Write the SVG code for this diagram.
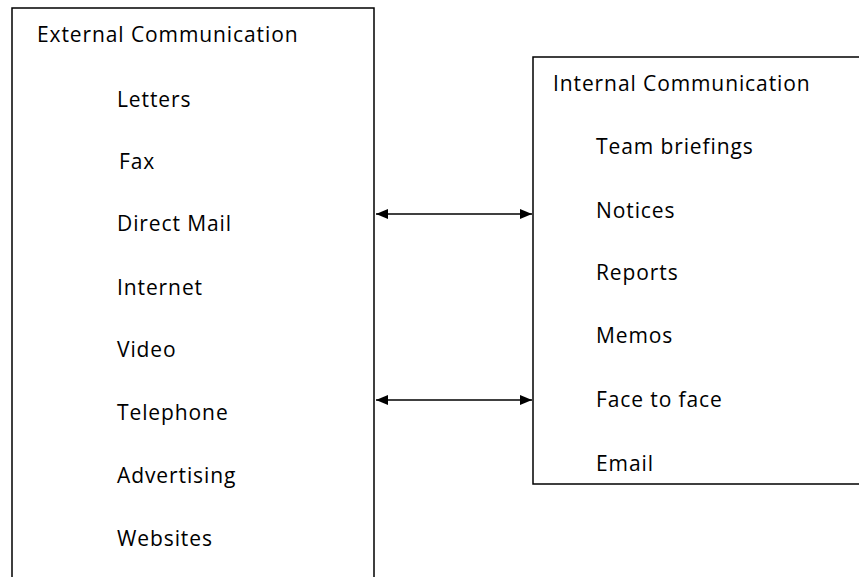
<svg xmlns="http://www.w3.org/2000/svg" width="859" height="577" viewBox="0 0 859 577">
<style>
.box{fill:#fff;stroke:#000;stroke-width:1.5}
text{font-family:"Open Sans","Noto Sans",sans-serif;font-size:21px;letter-spacing:0.9px;fill:#000}
.con{stroke:#000;stroke-width:1.5;fill:none}
</style>
<defs>
<marker id="ah" viewBox="0 0 12 10" refX="12" refY="5" markerWidth="12" markerHeight="10" markerUnits="userSpaceOnUse" orient="auto-start-reverse">
<path d="M0,0 L12,5 L0,10 Z" fill="#000"/>
</marker>
</defs>
<g id="external">
<path class="box" d="M12,580 L12,8 L374,8 L374,580"/>
<text x="37" y="42">External  Communication</text>
<text x="117" y="107">Letters</text>
<text x="119" y="169">Fax</text>
<text x="117" y="231">Direct Mail</text>
<text x="117" y="295">Internet</text>
<text x="117" y="357">Video</text>
<text x="117" y="420">Telephone</text>
<text x="117" y="483">Advertising</text>
<text x="117" y="546">Websites</text>
</g>
<g id="internal">
<path class="box" d="M862,57 L533,57 L533,484 L862,484"/>
<text x="553" y="91">Internal  Communication</text>
<text x="596" y="154">Team briefings</text>
<text x="596" y="218">Notices</text>
<text x="596" y="280">Reports</text>
<text x="596" y="343">Memos</text>
<text x="596" y="407">Face to face</text>
<text x="596" y="471">Email</text>
</g>
<g id="connectors">
<line class="con" x1="376" y1="214" x2="532" y2="214" marker-start="url(#ah)" marker-end="url(#ah)"/>
<line class="con" x1="376" y1="400" x2="532" y2="400" marker-start="url(#ah)" marker-end="url(#ah)"/>
</g>
</svg>
